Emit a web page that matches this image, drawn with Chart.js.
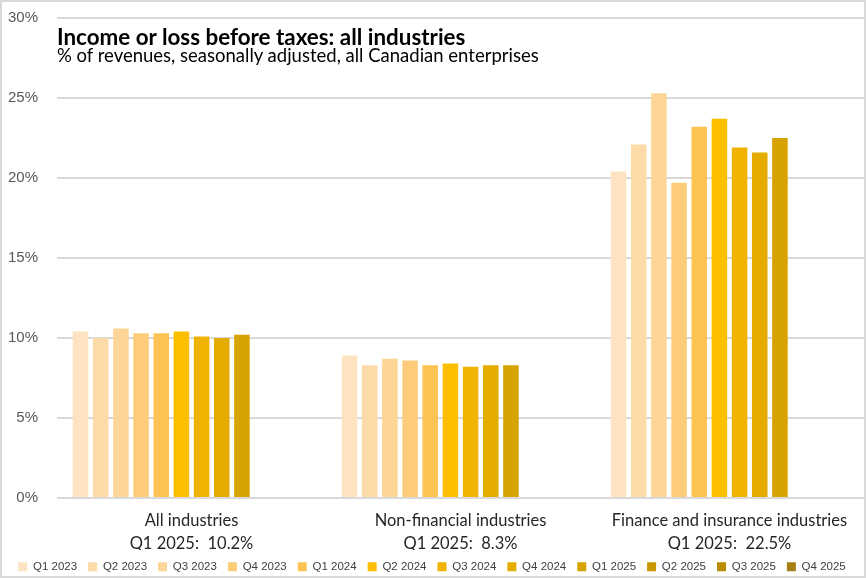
<!DOCTYPE html>
<html>
<head>
<meta charset="utf-8">
<script src="https://cdn.jsdelivr.net/npm/chart.js@4"></script>
<style>
  body { margin: 0; background: #fff; }
  .wrap { position: relative; width: 866px; height: 578px; }
  .wrap canvas { position: absolute; left: 0; top: 0; }
  .frame { position: absolute; inset: 0; border: 2px solid #d9d9d9; pointer-events: none; }
  .title { position: absolute; left: 57px; top: 23px; font: bold 22.4px Lato, "Noto Sans", sans-serif; color: #000; white-space: nowrap; }
  .subtitle { position: absolute; left: 57px; top: 44px; font: 18.5px Lato, "Noto Sans", sans-serif; color: #000; white-space: nowrap; }
</style>
</head>
<body>
<div class="wrap">
  <canvas id="Chart" width="866" height="578"></canvas>
  <div class="title">Income or loss before taxes: all industries</div>
  <div class="subtitle">% of revenues, seasonally adjusted, all Canadian enterprises</div>
  <div class="frame"></div>
</div>
<script>
// data
var categories = [
  ['All industries', 'Q1 2025:  10.2%'],
  ['Non-financial industries', 'Q1 2025:  8.3%'],
  ['Finance and insurance industries', 'Q1 2025:  22.5%']
];
var quarters = ['Q1 2023', 'Q2 2023', 'Q3 2023', 'Q4 2023', 'Q1 2024', 'Q2 2024',
  'Q3 2024', 'Q4 2024', 'Q1 2025', 'Q2 2025', 'Q3 2025', 'Q4 2025'];
// one array per category, one value per quarter (null = not yet published)
var allIndustries = [10.4, 10.0, 10.6, 10.3, 10.3, 10.4, 10.1, 10.0, 10.2, null, null, null];
var nonFinancial = [8.9, 8.3, 8.7, 8.6, 8.3, 8.4, 8.2, 8.3, 8.3, null, null, null];
var financeInsurance = [20.4, 22.1, 25.3, 19.7, 23.2, 23.7, 21.9, 21.6, 22.5, null, null, null];
var yTicks = [0, 5, 10, 15, 20, 25, 30];

var colors = ['#FDE3C1', '#FDDBA9', '#FDD596', '#FDCC7B', '#FCC353', '#FBBF00',
  '#EFB300', '#E5AC00', '#D7A300', '#C89800', '#B88B00', '#A67F14'];

var datasets = quarters.map(function (q, i) {
  return {
    label: q,
    data: [allIndustries[i], nonFinancial[i], financeInsurance[i]],
    backgroundColor: colors[i],
    categoryPercentage: 0.9,
    barPercentage: 0.77
  };
});

var ctx = document.getElementById('Chart').getContext('2d');
var chart = new Chart(ctx, {
  type: 'bar',
  data: { labels: categories, datasets: datasets },
  options: {
    responsive: false,
    animation: false,
    layout: { padding: { top: 0, right: 2, bottom: 2, left: 0 } },
    plugins: {
      tooltip: { enabled: false },
      legend: {
        position: 'bottom',
        maxHeight: 26,
        labels: {
          boxWidth: 9,
          boxHeight: 9,
          padding: 11,
          color: '#404040',
          font: { family: '"Liberation Sans", Arial, sans-serif', size: 11.5 }
        }
      }
    },
    scales: {
      x: {
        grid: { display: false, drawTicks: false },
        border: { display: false },
        ticks: {
          color: '#262626',
          padding: 12,
          maxRotation: 0,
          font: { family: '"Liberation Sans Narrow", Lato, sans-serif', size: 16.5, lineHeight: 1.35 }
        },
        afterFit: function (s) { s.height = 52; }
      },
      y: {
        min: 0,
        max: 30,
        afterBuildTicks: function (s) {
          s.ticks = yTicks.map(function (v) { return { value: v }; });
        },
        grid: { color: '#d9d9d9', lineWidth: 2, drawTicks: false },
        border: { display: false },
        ticks: {
          color: '#595959',
          padding: 19,
          font: { family: '"Liberation Sans", Arial, sans-serif', size: 15 },
          callback: function (v) { return v + '%'; }
        },
        afterFit: function (s) {
          s.width = 57;
          s.paddingTop = 18;
          s.paddingBottom = 10;
        }
      }
    }
  }
});
</script>
</body>
</html>
